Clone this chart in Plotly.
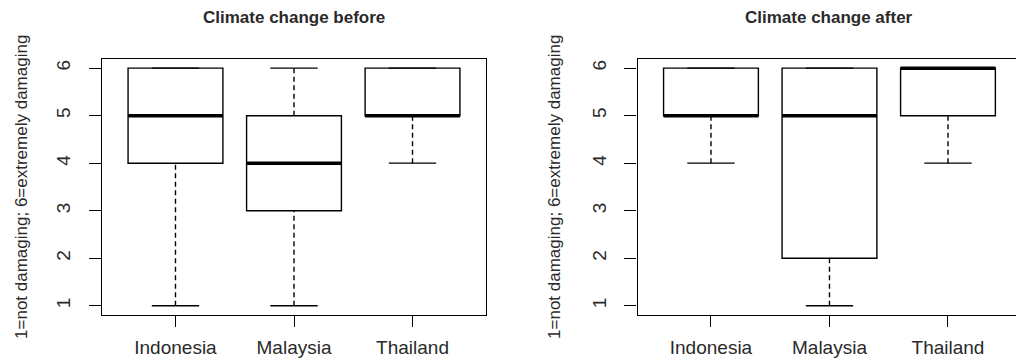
import plotly.graph_objects as go

categories = ["Indonesia", "Malaysia", "Thailand"]
positions = [1, 2, 3]

before_low = [1, 1, 4]
before_q1 = [4, 3, 5]
before_med = [5, 4, 5]
before_q3 = [6, 5, 6]
before_high = [6, 6, 6]

after_low = [4, 1, 4]
after_q1 = [5, 2, 5]
after_med = [5, 5, 6]
after_q3 = [6, 6, 6]
after_high = [6, 6, 6]

y_ticks = [1, 2, 3, 4, 5, 6]
titles = ["Climate change before", "Climate change after"]
y_title = "1=not damaging; 6=extremely damaging"

W, H = 1016, 358
FONT = "Liberation Sans, Arial, sans-serif"
TXT = "#2a2a2a"
BOX_W = 0.8
CAP_HALF = 0.2

fig = go.Figure()

panels = [
    dict(low=before_low, q1=before_q1, med=before_med, q3=before_q3, high=before_high,
         xa="x", ya="y"),
    dict(low=after_low, q1=after_q1, med=after_med, q3=after_q3, high=after_high,
         xa="x2", ya="y2"),
]

for p in panels:
    fig.add_trace(go.Box(
        x=positions, q1=p["q1"], median=p["med"], q3=p["q3"],
        lowerfence=p["q1"], upperfence=p["q3"],
        width=BOX_W, whiskerwidth=0, boxpoints=False,
        fillcolor="white", line=dict(color="black", width=1.4),
        xaxis=p["xa"], yaxis=p["ya"], showlegend=False, hoverinfo="skip",
    ))
    # dashed whiskers
    wx, wy = [], []
    for x, lo, q1, q3, hi in zip(positions, p["low"], p["q1"], p["q3"], p["high"]):
        if lo < q1:
            wx += [x, x, None]; wy += [lo, q1, None]
        if hi > q3:
            wx += [x, x, None]; wy += [q3, hi, None]
    fig.add_trace(go.Scatter(x=wx, y=wy, mode="lines",
                             line=dict(color="black", width=1.4, dash="5px,3.5px"),
                             xaxis=p["xa"], yaxis=p["ya"], showlegend=False, hoverinfo="skip"))
    # caps
    cx, cy = [], []
    for x, lo, hi in zip(positions, p["low"], p["high"]):
        for v in (lo, hi):
            cx += [x - CAP_HALF, x + CAP_HALF, None]; cy += [v, v, None]
    fig.add_trace(go.Scatter(x=cx, y=cy, mode="lines",
                             line=dict(color="black", width=1.3),
                             xaxis=p["xa"], yaxis=p["ya"], showlegend=False, hoverinfo="skip"))
    # thick medians
    mx, my = [], []
    for x, m in zip(positions, p["med"]):
        mx += [x - BOX_W / 2, x + BOX_W / 2, None]; my += [m, m, None]
    fig.add_trace(go.Scatter(x=mx, y=my, mode="lines",
                             line=dict(color="black", width=3.5),
                             xaxis=p["xa"], yaxis=p["ya"], showlegend=False, hoverinfo="skip"))

ydom = [1 - 317 / H, 1 - 59 / H]
left_dom = [102 / W, 486 / W]
right_dom = [637.5 / W, 1.0]

common_x = dict(tickvals=positions, ticktext=categories, ticks="outside", ticklen=11,
                tickwidth=1.3, tickcolor="black", showline=True, linecolor="black",
                linewidth=1.4, mirror=True, showgrid=False, zeroline=False,
                ticklabelstandoff=4,
                tickfont=dict(family=FONT, size=19, color=TXT))
common_y = dict(tickvals=y_ticks, range=[0.8, 6.2], ticks="outside", ticklen=12,
                tickwidth=1.3, tickcolor="black", showline=True, linecolor="black",
                linewidth=1.4, showgrid=False, zeroline=False, tickangle=-90,
                ticklabelstandoff=11,
                tickfont=dict(family=FONT, size=19, color=TXT), domain=ydom)

fig.update_layout(
    width=W, height=H, margin=dict(l=0, r=0, t=0, b=0),
    paper_bgcolor="white", plot_bgcolor="white",
    xaxis=dict(domain=left_dom, range=[0.38, 3.62], anchor="y", **common_x),
    yaxis=dict(anchor="x", mirror=True, **common_y),
    xaxis2=dict(domain=right_dom, range=[0.38, 3.574], anchor="y2", **common_x),
    yaxis2=dict(anchor="x2", mirror=False, **common_y),
)

annotations = []
for dom, t in zip([left_dom, [637.5 / W, (637.5 + 3.24 * 118.5) / W]], titles):
    annotations.append(dict(text="<b>%s</b>" % t, x=(dom[0] + dom[1]) / 2, y=1 - 18 / H,
                            xref="paper", yref="paper", xanchor="center", yanchor="middle",
                            showarrow=False, font=dict(family=FONT, size=17, color=TXT)))
for xpx in (22, 555):
    annotations.append(dict(text=y_title, x=xpx / W, y=(ydom[0] + ydom[1]) / 2,
                            xref="paper", yref="paper", xanchor="center", yanchor="middle",
                            textangle=-90, showarrow=False,
                            font=dict(family=FONT, size=17, color=TXT)))
fig.update_layout(annotations=annotations)

fig.write_html("out.html", config={"displayModeBar": False},
               post_script="document.body.style.margin='0';document.body.style.overflow='hidden';")
